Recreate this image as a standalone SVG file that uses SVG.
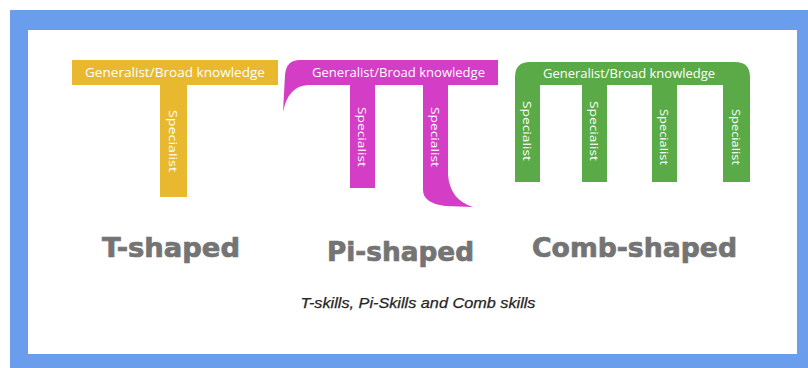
<svg xmlns="http://www.w3.org/2000/svg" width="808" height="368" viewBox="0 0 808 368">
  <style>
    .bar-text { font-family: "Open Sans", "Liberation Sans", sans-serif; font-size: 12px; fill: #ffffff; text-anchor: middle; dominant-baseline: central; }
    .leg-text { font-family: "Open Sans", "Liberation Sans", sans-serif; font-size: 11px; fill: #ffffff; text-anchor: middle; dominant-baseline: central; }
    .label { font-family: "DejaVu Sans", "Liberation Sans", sans-serif; font-weight: bold; font-size: 26px; fill: #747474; stroke: #747474; stroke-width: 0.7; }
    .caption { font-family: "Liberation Sans", Arial, sans-serif; font-style: italic; font-size: 14px; fill: #262626; stroke: #262626; stroke-width: 0.25; text-anchor: middle; }
    .yellow { fill: #e8b92e; }
    .magenta { fill: #d43dc6; }
    .green { fill: #5aab48; }
  </style>

  <!-- page and blue frame -->
  <rect x="0" y="0" width="808" height="368" fill="#ffffff"/>
  <rect x="10" y="10" width="798" height="358" fill="#6b9ded"/>
  <rect x="28" y="30" width="769" height="324" fill="#ffffff"/>

  <!-- T-shaped profile -->
  <g id="t-shape">
    <rect class="yellow" x="72" y="60" width="206" height="25"/>
    <rect class="yellow" x="160" y="85" width="27" height="112"/>
    <text class="bar-text" x="175" y="72.5" textLength="180" lengthAdjust="spacingAndGlyphs">Generalist/Broad knowledge</text>
    <text class="leg-text" transform="translate(173.5,141) rotate(90)" x="0" y="0" textLength="62" lengthAdjust="spacingAndGlyphs">Specialist</text>
  </g>

  <!-- Pi-shaped profile -->
  <g id="pi-shape">
    <path class="magenta" d="M498,60 L300,60 Q286,60 285,75 L283,112 Q288,86 308,85 L498,85 Z"/>
    <rect class="magenta" x="350" y="84" width="25" height="104"/>
    <path class="magenta" d="M423,84 L448,84 L448,175 Q450,200 473,207 L445,206 Q423,203 423,190 Z"/>
    <text class="bar-text" x="398.5" y="72.5" textLength="173" lengthAdjust="spacingAndGlyphs">Generalist/Broad knowledge</text>
    <text class="leg-text" transform="translate(362.5,137) rotate(90)" x="0" y="0" textLength="60" lengthAdjust="spacingAndGlyphs">Specialist</text>
    <text class="leg-text" transform="translate(435.5,137) rotate(90)" x="0" y="0" textLength="60" lengthAdjust="spacingAndGlyphs">Specialist</text>
  </g>

  <!-- Comb-shaped profile -->
  <g id="comb-shape">
    <path class="green" d="M515,182 L515,77 Q515,62 530,62 L735,62 Q750,62 750,77 L750,182 L723,182 L723,85 L677,85 L677,182 L652,182 L652,85 L607,85 L607,182 L582,182 L582,85 L540,85 L540,182 Z"/>
    <text class="bar-text" x="629" y="73.5" textLength="172" lengthAdjust="spacingAndGlyphs">Generalist/Broad knowledge</text>
    <text class="leg-text" transform="translate(527.5,131) rotate(90)" x="0" y="0" textLength="60" lengthAdjust="spacingAndGlyphs">Specialist</text>
    <text class="leg-text" transform="translate(594.5,131) rotate(90)" x="0" y="0" textLength="60" lengthAdjust="spacingAndGlyphs">Specialist</text>
    <text class="leg-text" transform="translate(664.5,137) rotate(90)" x="0" y="0" textLength="56" lengthAdjust="spacingAndGlyphs">Specialist</text>
    <text class="leg-text" transform="translate(736.5,137) rotate(90)" x="0" y="0" textLength="56" lengthAdjust="spacingAndGlyphs">Specialist</text>
  </g>

  <!-- profile names -->
  <g id="labels">
    <text class="label" x="102" y="257" textLength="138" lengthAdjust="spacingAndGlyphs">T-shaped</text>
    <text class="label" x="327" y="261" textLength="147" lengthAdjust="spacingAndGlyphs">Pi-shaped</text>
    <text class="label" x="532" y="257" textLength="205" lengthAdjust="spacingAndGlyphs">Comb-shaped</text>
  </g>

  <g id="caption">
    <text class="caption" x="418" y="308" textLength="235" lengthAdjust="spacingAndGlyphs">T-skills, Pi-Skills and Comb skills</text>
  </g>
</svg>
